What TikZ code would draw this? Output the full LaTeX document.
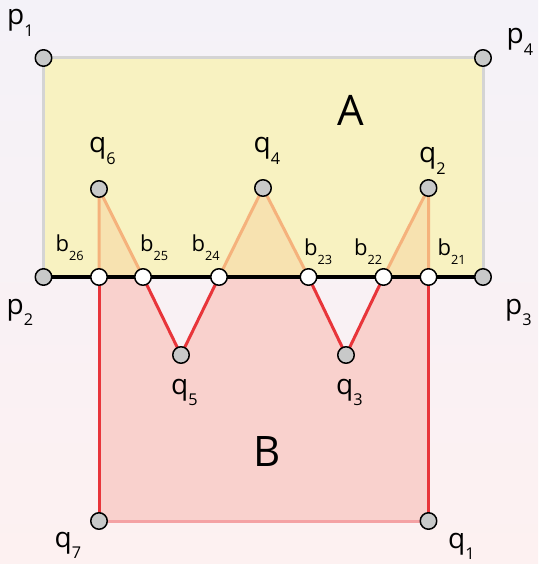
\documentclass[tikz,border=0pt]{standalone}
\usepackage{fontspec}
\setmainfont{Open Sans}

\definecolor{bgtop}{HTML}{F4F2F8}
\definecolor{bgbot}{HTML}{FDF1F1}
\definecolor{fillA}{HTML}{F8F2C1}
\definecolor{edgeA}{HTML}{D4D4D4}
\definecolor{fillAB}{HTML}{F7E2B0}
\definecolor{edgeAB}{HTML}{F5B27C}
\definecolor{fillB}{HTML}{F9D1CD}
\definecolor{edgeB}{HTML}{E8353A}
\definecolor{edgeBlow}{HTML}{F4A2A4}
\definecolor{dotgray}{HTML}{C8C9C9}

% subscript index
\newcommand\ix[1]{\raisebox{-0.42em}{\scalebox{0.58}{#1}}}

\tikzset{
  gdot/.style={circle, draw=black, line width=1.5pt, fill=dotgray, minimum size=16.5pt, inner sep=0pt},
  wdot/.style={gdot, fill=white},
  lbl/.style={anchor=base west, inner sep=0pt, font=\fontsize{28}{28}\selectfont},
  blbl/.style={anchor=base west, inner sep=0pt, font=\fontsize{22}{22}\selectfont},
  big/.style={anchor=base, inner sep=0pt, font=\fontsize{42}{42}\selectfont},
  edge/.style={line width=3pt, line cap=round}
}

\begin{document}
\begin{tikzpicture}[x=1pt, y=-1pt, line join=round]
    \useasboundingbox (0,0) rectangle (538,564);
    \shade[top color=bgtop, bottom color=bgbot] (0,0) rectangle (538,564);

    % corner points of A
    \coordinate (p1) at (43.5,58);
    \coordinate (p4) at (483,58);
    \coordinate (p2) at (43.5,277);
    \coordinate (p3) at (483,277);

    % vertices of B
    \coordinate (q1) at (428.5,521);
    \coordinate (q2) at (428.5,188);
    \coordinate (q3) at (346,355);
    \coordinate (q4) at (263,188);
    \coordinate (q5) at (181,355);
    \coordinate (q6) at (99,189);
    \coordinate (q7) at (99,521);

    % crossings on p2--p3
    \coordinate (b21) at (428.5,277);
    \coordinate (b22) at (383.5,277);
    \coordinate (b23) at (308.5,277);
    \coordinate (b24) at (219,277);
    \coordinate (b25) at (143,277);
    \coordinate (b26) at (99,277);

    % polygon A
    \fill[fillA] (p1) rectangle (p3);
    \draw[edge, edgeA] (p2) -- (p1) -- (p4) -- (p3);

    % overlap A and B
    \fill[fillAB] (b26) -- (q6) -- (b25) -- cycle;
    \fill[fillAB] (b24) -- (q4) -- (b23) -- cycle;
    \fill[fillAB] (b22) -- (q2) -- (b21) -- cycle;

    % polygon B outside A
    \fill[fillB] (b26) -- (b25) -- (q5) -- (b24) -- (b23) -- (q3) -- (b22) -- (b21) -- (q1) -- (q7) -- cycle;

    \draw[edge, edgeBlow] (q7) -- (q1);
    \draw[edge, edgeB] (q7) -- (b26);
    \draw[edge, edgeB] (b25) -- (q5) -- (b24);
    \draw[edge, edgeB] (b23) -- (q3) -- (b22);
    \draw[edge, edgeB] (b21) -- (q1);

    \draw[edge, edgeAB] (b26) -- (q6) -- (b25);
    \draw[edge, edgeAB] (b24) -- (q4) -- (b23);
    \draw[edge, edgeAB] (b22) -- (q2) -- (b21);

    \draw[line width=3.5pt] (p2) -- (p3);

    % points
    \foreach \n in {p1,p2,p3,p4,q1,q2,q3,q4,q5,q6,q7} {
        \node[gdot] (d\n) at (\n) {};
    }
    \foreach \n in {b21,b22,b23,b24,b25,b26} {
        \node[wdot] (d\n) at (\n) {};
    }

    % labels
    \node[lbl] (lp1) at (7,24.5) {p\ix{1}};
    \node[lbl] (lp4) at (506.5,44) {p\ix{4}};
    \node[lbl] (lp2) at (6.5,314) {p\ix{2}};
    \node[lbl] (lp3) at (505,314) {p\ix{3}};
    \node[lbl] (lq6) at (89,152.5) {q\ix{6}};
    \node[lbl] (lq4) at (253.5,152.5) {q\ix{4}};
    \node[lbl] (lq2) at (419,162.5) {q\ix{2}};
    \node[lbl] (lq5) at (171,394) {q\ix{5}};
    \node[lbl] (lq3) at (336,394) {q\ix{3}};
    \node[lbl] (lq7) at (54.5,547) {q\ix{7}};
    \node[lbl] (lq1) at (448,548) {q\ix{1}};

    \node[blbl] (lb26) at (55.5,251) {b\ix{26}};
    \node[blbl] (lb25) at (140,251) {b\ix{25}};
    \node[blbl] (lb24) at (191.5,251) {b\ix{24}};
    \node[blbl] (lb23) at (304,255) {b\ix{23}};
    \node[blbl] (lb22) at (354,255) {b\ix{22}};
    \node[blbl] (lb21) at (437.5,255) {b\ix{21}};

    \node[big] (lA) at (351,125.3) {A};
    \node[big] (lB) at (267.5,466) {B};
\end{tikzpicture}
\end{document}
